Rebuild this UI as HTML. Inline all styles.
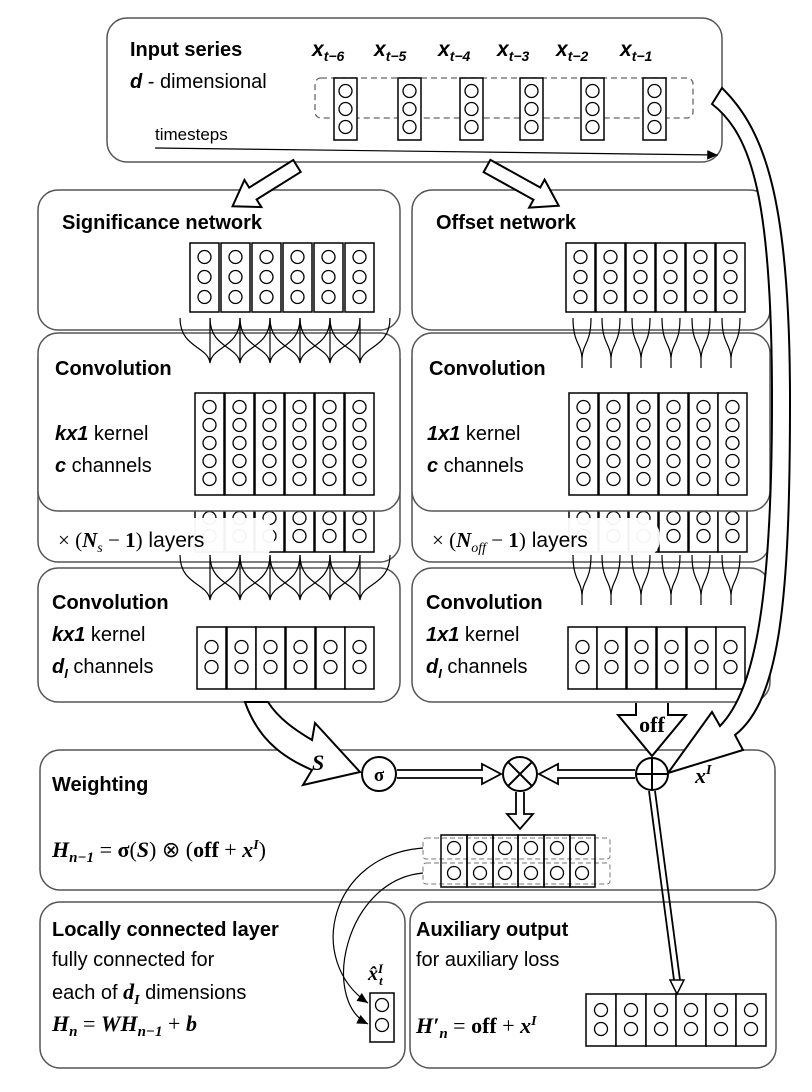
<!DOCTYPE html>
<html><head><meta charset="utf-8"><style>
html,body{margin:0;padding:0;background:#fff}
svg{display:block}
text{font-family:"Liberation Sans",sans-serif;fill:#000}
.b{font-weight:bold}
.s{font-family:"Liberation Serif",serif}
</style></head><body>
<svg width="812" height="1092" viewBox="0 0 812 1092" xmlns="http://www.w3.org/2000/svg">
<defs>
<circle id="o" r="6.5" fill="#fff" stroke="#000" stroke-width="1.3"/>
<g id="c3"><rect x="0" y="0" width="29" height="69" fill="#fff" stroke="#000" stroke-width="1.5"/><use href="#o" x="14.5" y="14"/><use href="#o" x="14.5" y="34"/><use href="#o" x="14.5" y="54"/></g>
<g id="c5"><rect x="0" y="0" width="29" height="102" fill="#fff" stroke="#000" stroke-width="1.5"/><use href="#o" x="14.5" y="14"/><use href="#o" x="14.5" y="32"/><use href="#o" x="14.5" y="50"/><use href="#o" x="14.5" y="68"/><use href="#o" x="14.5" y="86"/></g>
<g id="c2"><rect x="0" y="0" width="29" height="62" fill="#fff" stroke="#000" stroke-width="1.5"/><use href="#o" x="14.5" y="20"/><use href="#o" x="14.5" y="40"/></g>
<g id="t3"><rect x="0" y="0" width="23" height="62" fill="#fff" stroke="#000" stroke-width="1.5"/><use href="#o" x="11.5" y="13"/><use href="#o" x="11.5" y="31"/><use href="#o" x="11.5" y="49"/></g>
<g id="lc"><path d="M-30,0 C-30,30 -2,28 0,45 M30,0 C30,30 2,28 0,45 M0,0 C0,20 0,30 0,45" fill="none" stroke="#000" stroke-width="1.2"/></g>
<g id="rc"><path d="M-9,0 C-9,25 -1,25 0,40 M9,0 C9,25 1,25 0,40 M0,40 L0,50" fill="none" stroke="#000" stroke-width="1.2"/></g>
<marker id="ah" markerWidth="10" markerHeight="10" refX="9" refY="5" orient="auto"><path d="M0,1 L9,5 L0,9 Z" fill="#000"/></marker>
</defs>

<!-- Top box -->
<rect x="107" y="18" width="615" height="144" rx="20" fill="#fff" stroke="#555" stroke-width="1.5"/>
<text x="130" y="56" class="b" font-size="20">Input series</text>
<text x="130" y="88" font-size="20"><tspan class="b" font-style="italic">d</tspan> - dimensional</text>
<g class="s" font-size="21" font-weight="bold" font-style="italic">
<text x="312" y="56">x<tspan font-size="14" dy="5">t−6</tspan></text>
<text x="374" y="56">x<tspan font-size="14" dy="5">t−5</tspan></text>
<text x="438" y="56">x<tspan font-size="14" dy="5">t−4</tspan></text>
<text x="497" y="56">x<tspan font-size="14" dy="5">t−3</tspan></text>
<text x="556" y="56">x<tspan font-size="14" dy="5">t−2</tspan></text>
<text x="620" y="56">x<tspan font-size="14" dy="5">t−1</tspan></text>
</g>
<rect x="315" y="78" width="378" height="40" rx="6" fill="none" stroke="#666" stroke-width="1.3" stroke-dasharray="6,4"/>
<use href="#t3" x="334" y="78"/><use href="#t3" x="398" y="78"/><use href="#t3" x="460" y="78"/><use href="#t3" x="520" y="78"/><use href="#t3" x="581" y="78"/><use href="#t3" x="643" y="78"/>
<text x="155" y="140" font-size="17">timesteps</text>
<line x1="155" y1="148" x2="718" y2="155" stroke="#000" stroke-width="1.2" marker-end="url(#ah)"/>

<!-- left column boxes -->
<rect x="38" y="190" width="362" height="140" rx="20" fill="#fff" stroke="#555" stroke-width="1.5"/>
<text x="62" y="229" class="b" font-size="20">Significance network</text>
<use href="#c3" x="190" y="243"/><use href="#c3" x="221" y="243"/><use href="#c3" x="252" y="243"/><use href="#c3" x="283" y="243"/><use href="#c3" x="314" y="243"/><use href="#c3" x="345" y="243"/>

<rect x="38" y="340" width="362" height="222" rx="20" fill="#fff" stroke="#555" stroke-width="1.5"/>
<use href="#c5" x="195" y="450"/><use href="#c5" x="225" y="450"/><use href="#c5" x="255" y="450"/><use href="#c5" x="285" y="450"/><use href="#c5" x="315" y="450"/><use href="#c5" x="345" y="450"/>
<rect x="38" y="333" width="362" height="178" rx="20" fill="#fff" stroke="#555" stroke-width="1.5"/>
<g transform="translate(0,318)"><use href="#lc" x="210"/><use href="#lc" x="240"/><use href="#lc" x="270"/><use href="#lc" x="300"/><use href="#lc" x="330"/><use href="#lc" x="360"/></g>
<text x="55" y="375" class="b" font-size="20">Convolution</text>
<text x="55" y="440" font-size="20"><tspan class="b" font-style="italic">kx1</tspan> kernel</text>
<text x="55" y="472" font-size="20"><tspan class="b" font-style="italic">c</tspan> channels</text>
<use href="#c5" x="195" y="393"/><use href="#c5" x="225" y="393"/><use href="#c5" x="255" y="393"/><use href="#c5" x="285" y="393"/><use href="#c5" x="315" y="393"/><use href="#c5" x="345" y="393"/>
<rect x="46" y="518" width="228" height="40" rx="18" fill="#fff" opacity="0.95"/>
<text x="58" y="547" font-size="21"><tspan class="s">× (</tspan><tspan class="s" font-style="italic" font-weight="bold">N</tspan><tspan class="s" font-style="italic" font-size="14" dy="5">s</tspan><tspan class="s" dy="-5"> − </tspan><tspan class="s" font-weight="bold">1</tspan><tspan class="s">)</tspan> layers</text>

<rect x="38" y="568" width="362" height="134" rx="20" fill="#fff" stroke="#555" stroke-width="1.5"/>
<g transform="translate(0,555)"><use href="#lc" x="210"/><use href="#lc" x="240"/><use href="#lc" x="270"/><use href="#lc" x="300"/><use href="#lc" x="330"/><use href="#lc" x="360"/></g>
<text x="52" y="609" class="b" font-size="20">Convolution</text>
<text x="52" y="641" font-size="20"><tspan class="b" font-style="italic">kx1</tspan> kernel</text>
<text x="52" y="673" font-size="20"><tspan class="b" font-style="italic">d</tspan><tspan class="b" font-style="italic" font-size="13" dy="5">I</tspan><tspan dy="-5"> channels</tspan></text>
<use href="#c2" x="197" y="627"/><use href="#c2" x="227" y="627"/><use href="#c2" x="256" y="627"/><use href="#c2" x="286" y="627"/><use href="#c2" x="316" y="627"/><use href="#c2" x="345" y="627"/>

<!-- right column boxes -->
<rect x="412" y="190" width="358" height="140" rx="20" fill="#fff" stroke="#555" stroke-width="1.5"/>
<text x="436" y="229" class="b" font-size="20">Offset network</text>
<use href="#c3" x="566" y="243"/><use href="#c3" x="596" y="243"/><use href="#c3" x="626" y="243"/><use href="#c3" x="656" y="243"/><use href="#c3" x="686" y="243"/><use href="#c3" x="716" y="243"/>

<rect x="412" y="340" width="358" height="222" rx="20" fill="#fff" stroke="#555" stroke-width="1.5"/>
<use href="#c5" x="569" y="450"/><use href="#c5" x="599" y="450"/><use href="#c5" x="629" y="450"/><use href="#c5" x="659" y="450"/><use href="#c5" x="689" y="450"/><use href="#c5" x="718" y="450"/>
<rect x="412" y="333" width="358" height="178" rx="20" fill="#fff" stroke="#555" stroke-width="1.5"/>
<g transform="translate(0,318)"><use href="#rc" x="582"/><use href="#rc" x="611"/><use href="#rc" x="641"/><use href="#rc" x="671"/><use href="#rc" x="701"/><use href="#rc" x="731"/></g>
<text x="429" y="375" class="b" font-size="20">Convolution</text>
<text x="427" y="440" font-size="20"><tspan class="b" font-style="italic">1x1</tspan> kernel</text>
<text x="427" y="472" font-size="20"><tspan class="b" font-style="italic">c</tspan> channels</text>
<use href="#c5" x="569" y="393"/><use href="#c5" x="599" y="393"/><use href="#c5" x="629" y="393"/><use href="#c5" x="659" y="393"/><use href="#c5" x="689" y="393"/><use href="#c5" x="718" y="393"/>
<rect x="420" y="518" width="240" height="40" rx="18" fill="#fff" opacity="0.95"/>
<text x="432" y="547" font-size="21"><tspan class="s">× (</tspan><tspan class="s" font-style="italic" font-weight="bold">N</tspan><tspan class="s" font-style="italic" font-size="14" dy="5">off</tspan><tspan class="s" dy="-5"> − </tspan><tspan class="s" font-weight="bold">1</tspan><tspan class="s">)</tspan> layers</text>

<rect x="412" y="568" width="358" height="134" rx="20" fill="#fff" stroke="#555" stroke-width="1.5"/>
<g transform="translate(0,555)"><use href="#rc" x="582"/><use href="#rc" x="611"/><use href="#rc" x="641"/><use href="#rc" x="671"/><use href="#rc" x="701"/><use href="#rc" x="731"/></g>
<text x="426" y="609" class="b" font-size="20">Convolution</text>
<text x="426" y="641" font-size="20"><tspan class="b" font-style="italic">1x1</tspan> kernel</text>
<text x="426" y="673" font-size="20"><tspan class="b" font-style="italic">d</tspan><tspan class="b" font-style="italic" font-size="13" dy="5">I</tspan><tspan dy="-5"> channels</tspan></text>
<use href="#c2" x="568" y="627"/><use href="#c2" x="597" y="627"/><use href="#c2" x="627" y="627"/><use href="#c2" x="657" y="627"/><use href="#c2" x="687" y="627"/><use href="#c2" x="716" y="627"/>

<!-- hollow arrows from top (drawn over boxes) -->
<path d="M0,-7 L52,-7 L52,-16 L76,0 L52,16 L52,7 L0,7 Z" transform="translate(297,166) rotate(148)" fill="#fff" stroke="#000" stroke-width="2"/>
<path d="M0,-7 L57,-7 L57,-16 L82,0 L57,16 L57,7 L0,7 Z" transform="translate(487,166) rotate(29)" fill="#fff" stroke="#000" stroke-width="2"/>

<!-- Weighting box -->
<rect x="40" y="750" width="735" height="140" rx="20" fill="#fff" stroke="#555" stroke-width="1.5"/>
<text x="52" y="791" class="b" font-size="20">Weighting</text>
<text x="52" y="857" class="s" font-size="22"><tspan font-weight="bold" font-style="italic">H</tspan><tspan font-weight="bold" font-style="italic" font-size="15" dy="5">n−1</tspan><tspan dy="-5"> =  </tspan><tspan font-weight="bold">σ</tspan>(<tspan font-weight="bold" font-style="italic">S</tspan>) ⊗ (<tspan font-weight="bold">off</tspan> + <tspan font-weight="bold" font-style="italic">x</tspan><tspan font-weight="bold" font-style="italic" font-size="14" dy="-8">I</tspan><tspan dy="8">)</tspan></text>
<rect x="423" y="838" width="187" height="21" rx="3" fill="none" stroke="#777" stroke-dasharray="5,3"/>
<rect x="423" y="863" width="187" height="21" rx="3" fill="none" stroke="#777" stroke-dasharray="5,3"/>
<g stroke="#000" stroke-width="1.5" fill="none">
<rect x="441" y="835" width="26" height="52"/><rect x="467" y="835" width="26" height="52"/><rect x="493" y="835" width="25" height="52"/><rect x="518" y="835" width="26" height="52"/><rect x="544" y="835" width="26" height="52"/><rect x="570" y="835" width="25" height="52"/>
</g>
<g><use href="#o" x="454" y="848"/><use href="#o" x="480" y="848"/><use href="#o" x="505" y="848"/><use href="#o" x="531" y="848"/><use href="#o" x="557" y="848"/><use href="#o" x="582" y="848"/>
<use href="#o" x="454" y="873"/><use href="#o" x="480" y="873"/><use href="#o" x="505" y="873"/><use href="#o" x="531" y="873"/><use href="#o" x="557" y="873"/><use href="#o" x="582" y="873"/></g>

<!-- bottom boxes -->
<rect x="40" y="902" width="365" height="166" rx="20" fill="#fff" stroke="#555" stroke-width="1.5"/>
<text x="52" y="936" class="b" font-size="20">Locally connected layer</text>
<text x="52" y="966" font-size="20">fully connected for</text>
<text x="52" y="999" font-size="20">each of <tspan class="s" font-weight="bold" font-style="italic" font-size="22">d</tspan><tspan class="s" font-weight="bold" font-style="italic" font-size="14" dy="5">I</tspan><tspan dy="-5"> dimensions</tspan></text>
<text x="52" y="1031" class="s" font-size="22" font-weight="bold" font-style="italic">H<tspan font-size="15" dy="5">n</tspan><tspan dy="-5" font-style="normal" font-weight="normal"> = </tspan>WH<tspan font-size="15" dy="5">n−1</tspan><tspan dy="-5" font-style="normal" font-weight="normal"> + </tspan>b</text>
<text x="368" y="980" class="s" font-size="20" font-weight="bold" font-style="italic">x̂<tspan font-size="13" dy="-7">I</tspan><tspan font-size="13" dx="-4" dy="12">t</tspan></text>
<rect x="370" y="993" width="24" height="49" fill="#fff" stroke="#000" stroke-width="1.5"/>
<use href="#o" x="382" y="1005"/><use href="#o" x="382" y="1025"/>
<path d="M423,848 C330,855 305,960 368,1003" fill="none" stroke="#000" stroke-width="1.2" marker-end="url(#ah)"/>
<path d="M423,873 C345,880 320,1000 368,1024" fill="none" stroke="#000" stroke-width="1.2" marker-end="url(#ah)"/>

<rect x="410" y="902" width="366" height="166" rx="20" fill="#fff" stroke="#555" stroke-width="1.5"/>
<text x="416" y="936" class="b" font-size="20">Auxiliary output</text>
<text x="416" y="966" font-size="20">for auxiliary loss</text>
<text x="416" y="1033" class="s" font-size="22"><tspan font-weight="bold" font-style="italic">H′</tspan><tspan font-weight="bold" font-style="italic" font-size="15" dy="5">n</tspan><tspan dy="-5"> = </tspan><tspan font-weight="bold">off</tspan> + <tspan font-weight="bold" font-style="italic">x</tspan><tspan font-weight="bold" font-style="italic" font-size="14" dy="-8">I</tspan></text>
<g>
<rect x="586" y="994" width="30" height="52" fill="#fff" stroke="#000" stroke-width="1.5"/><rect x="616" y="994" width="30" height="52" fill="#fff" stroke="#000" stroke-width="1.5"/><rect x="646" y="994" width="30" height="52" fill="#fff" stroke="#000" stroke-width="1.5"/><rect x="676" y="994" width="30" height="52" fill="#fff" stroke="#000" stroke-width="1.5"/><rect x="706" y="994" width="30" height="52" fill="#fff" stroke="#000" stroke-width="1.5"/><rect x="736" y="994" width="30" height="52" fill="#fff" stroke="#000" stroke-width="1.5"/>
<use href="#o" x="601" y="1010"/><use href="#o" x="601" y="1029"/><use href="#o" x="631" y="1010"/><use href="#o" x="631" y="1029"/><use href="#o" x="661" y="1010"/><use href="#o" x="661" y="1029"/><use href="#o" x="691" y="1010"/><use href="#o" x="691" y="1029"/><use href="#o" x="721" y="1010"/><use href="#o" x="721" y="1029"/><use href="#o" x="751" y="1010"/><use href="#o" x="751" y="1029"/>
</g>

<!-- x^I curved arrow -->
<path d="M722,88 C765,130 790,200 790,400 C790,600 780,700 735,735 L743,750 L668,773 L712,712 L720,726 C755,690 772,600 772,400 C772,200 752,135 712,104 Z" fill="#fff" stroke="#000" stroke-width="2"/>
<text x="695" y="783" class="s" font-size="22" font-weight="bold" font-style="italic">x<tspan font-size="14" dy="-9">I</tspan></text>

<!-- S arrow -->
<path d="M245,702 C260,745 290,760 312,770 L303,785 L360,772 L315,723 L312,740 C295,730 278,718 268,702 Z" fill="#fff" stroke="#000" stroke-width="2"/>
<text x="312" y="770" class="s" font-size="22" font-weight="bold" font-style="italic">S</text>

<!-- off arrow -->
<path d="M636,703 L636,715 L618,715 L652,756 L686,715 L668,715 L668,703" fill="#fff" stroke="#000" stroke-width="2"/>
<text x="652" y="732" text-anchor="middle" class="s" font-size="22" font-weight="bold">off</text>

<!-- double line arrows -->
<path d="M397,770 L482,770 L482,764 L501,774 L482,784 L482,778 L397,778" fill="#fff" stroke="#000" stroke-width="1.8"/>
<path d="M635,770 L558,770 L558,764 L539,774 L558,784 L558,778 L635,778" fill="#fff" stroke="#000" stroke-width="1.8"/>
<path d="M516,792 L516,814 L507,814 L520,829 L533,814 L524,814 L524,792" fill="#fff" stroke="#000" stroke-width="1.8"/>
<path d="M649,791 L674,980 M655,791 L680,980" stroke="#000" stroke-width="1.8" fill="none"/>
<path d="M670,980 L677,994 L684,980 Z" fill="#fff" stroke="#000" stroke-width="1.5"/>

<!-- circles -->
<circle cx="379" cy="774" r="17" fill="#fff" stroke="#000" stroke-width="2"/>
<text x="379" y="781" text-anchor="middle" class="s" font-size="19" font-weight="bold">σ</text>
<circle cx="520" cy="774" r="17" fill="#fff" stroke="#000" stroke-width="2"/>
<path d="M508,762 L532,786 M532,762 L508,786" stroke="#000" stroke-width="2"/>
<circle cx="652" cy="774" r="16" fill="#fff" stroke="#000" stroke-width="2"/>
<path d="M636,774 L668,774 M652,758 L652,790" stroke="#000" stroke-width="2"/>
</svg>
</body></html>
